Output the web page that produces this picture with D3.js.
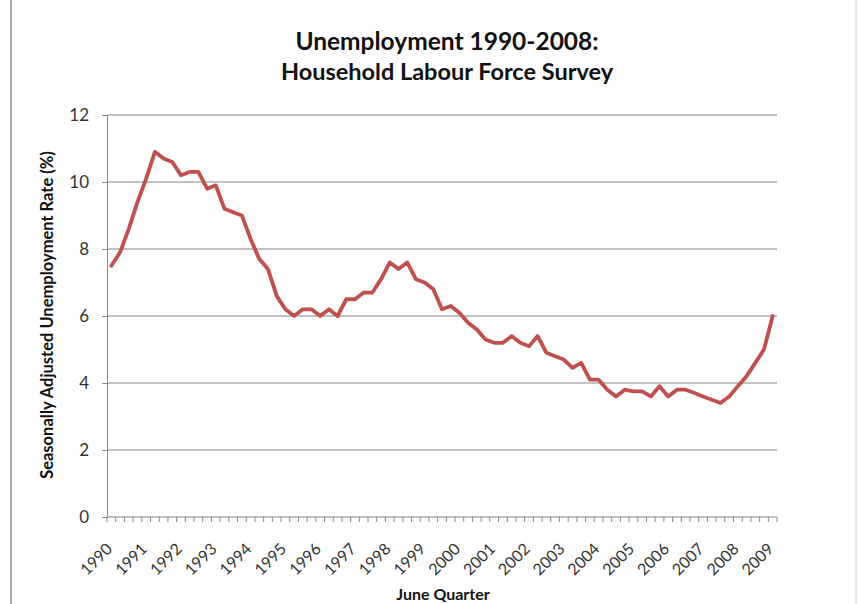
<!DOCTYPE html>
<html>
<head>
<meta charset="utf-8">
<script src="https://cdn.jsdelivr.net/npm/d3@7"></script>
<style>
  body { margin: 0; background: #fff; }
  text { font-family: Lato, "Open Sans", sans-serif; }
</style>
</head>
<body>
<div id="chart"></div>
<script>
// Year labels shown under every 4th quarter
var yearLabels = ["1990", "1991", "1992", "1993", "1994", "1995", "1996", "1997", "1998", "1999",
  "2000", "2001", "2002", "2003", "2004", "2005", "2006", "2007", "2008", "2009"];

// Seasonally adjusted unemployment rate (%), quarterly
var rates = [
  7.5, 7.9, 8.6, 9.4, 10.1, 10.9, 10.7, 10.6, 10.2, 10.3,
  10.3, 9.8, 9.9, 9.2, 9.1, 9.0, 8.3, 7.7, 7.4, 6.6,
  6.2, 6.0, 6.2, 6.2, 6.0, 6.2, 6.0, 6.5, 6.5, 6.7,
  6.7, 7.1, 7.6, 7.4, 7.6, 7.1, 7.0, 6.8, 6.2, 6.3,
  6.1, 5.8, 5.6, 5.3, 5.2, 5.2, 5.4, 5.2, 5.1, 5.4,
  4.9, 4.8, 4.7, 4.45, 4.6, 4.1, 4.1, 3.8, 3.6, 3.8,
  3.75, 3.75, 3.6, 3.9, 3.6, 3.8, 3.8, 3.7, 3.6, 3.5,
  3.4, 3.6, 3.9, 4.2, 4.6, 5.0, 6.0
];

var yTicks = [0, 2, 4, 6, 8, 10, 12];

var svgWidth = 859;
var svgHeight = 604;

var margin = { top: 115, right: 82, bottom: 87, left: 107 };
var chartWidth = svgWidth - margin.left - margin.right;
var chartHeight = svgHeight - margin.top - margin.bottom;

var svg = d3.select("#chart")
  .append("svg")
  .attr("width", svgWidth)
  .attr("height", svgHeight);

// outer frame lines
svg.append("line").attr("x1", 11).attr("x2", 11).attr("y1", 0).attr("y2", svgHeight)
  .attr("stroke", "#8c8c8c").attr("stroke-width", 1.5);
svg.append("line").attr("x1", 856).attr("x2", 856).attr("y1", 0).attr("y2", svgHeight)
  .attr("stroke", "#d0d0d0").attr("stroke-width", 1);

var chartGroup = svg.append("g")
  .attr("transform", `translate(${margin.left}, ${margin.top})`);

var data = rates.map(function(r, i) { return { q: i, rate: r }; });

var xScale = d3.scaleBand()
  .domain(data.map(d => d.q))
  .range([0, chartWidth]);

var yScale = d3.scaleLinear().domain([0, 12]).range([chartHeight, 0]);

// gridlines
chartGroup.append("g")
  .selectAll("line")
  .data(yTicks.filter(t => t > 0))
  .enter().append("line")
  .attr("x1", 0).attr("x2", chartWidth)
  .attr("y1", d => yScale(d)).attr("y2", d => yScale(d))
  .attr("stroke", "#868686").attr("stroke-width", 1);

// y axis
var leftAxis = d3.axisLeft(yScale).tickValues(yTicks).tickSize(5).tickPadding(13);
var yAxisG = chartGroup.append("g").call(leftAxis);
yAxisG.select(".domain").attr("stroke", "#868686");
yAxisG.selectAll(".tick line").attr("stroke", "#868686");
yAxisG.selectAll(".tick text")
  .attr("font-family", "Lato, sans-serif")
  .attr("font-size", 17)
  .attr("fill", "#333");

// x axis: ticks between quarters
var xAxisG = chartGroup.append("g").attr("transform", `translate(0, ${chartHeight})`);
xAxisG.append("line")
  .attr("x1", 0).attr("x2", chartWidth)
  .attr("stroke", "#868686");
xAxisG.selectAll("line.tick")
  .data(d3.range(rates.length + 1))
  .enter().append("line")
  .attr("class", "tick")
  .attr("x1", d => d * xScale.step()).attr("x2", d => d * xScale.step())
  .attr("y1", 0).attr("y2", 5)
  .attr("stroke", "#868686");

xAxisG.selectAll("text.year")
  .data(yearLabels)
  .enter().append("text")
  .attr("class", "year")
  .attr("transform", function(d, i) {
    var x = xScale(i * 4) + xScale.bandwidth() / 2 + 2;
    return `translate(${x}, 33) rotate(-45)`;
  })
  .attr("text-anchor", "end")
  .attr("font-size", 16)
  .attr("fill", "#333")
  .text(d => d);

// line
var line = d3.line()
  .x(d => xScale(d.q) + xScale.bandwidth() / 2)
  .y(d => yScale(d.rate));

chartGroup.append("path")
  .datum(data)
  .attr("d", line)
  .attr("fill", "none")
  .attr("stroke", "#C0504D")
  .attr("stroke-width", 3.8)
  .attr("stroke-linejoin", "round")
  .attr("stroke-linecap", "round");

// title
svg.append("text")
  .attr("x", 447).attr("y", 50)
  .attr("text-anchor", "middle")
  .attr("font-size", 24.5).attr("font-weight", "bold")
  .attr("fill", "#111")
  .text("Unemployment 1990-2008:");
svg.append("text")
  .attr("x", 447).attr("y", 80)
  .attr("text-anchor", "middle")
  .attr("font-size", 23.5).attr("font-weight", "bold")
  .attr("fill", "#111")
  .text("Household Labour Force Survey");

// axis labels
svg.append("text")
  .attr("transform", "rotate(-90)")
  .attr("x", -315).attr("y", 53)
  .attr("text-anchor", "middle")
  .attr("font-size", 16.5).attr("font-weight", "bold")
  .attr("fill", "#111")
  .text("Seasonally Adjusted Unemployment Rate (%)");

svg.append("text")
  .attr("x", 443).attr("y", 600)
  .attr("text-anchor", "middle")
  .attr("font-size", 16).attr("font-weight", "bold")
  .attr("fill", "#111")
  .text("June Quarter");
</script>
</body>
</html>
